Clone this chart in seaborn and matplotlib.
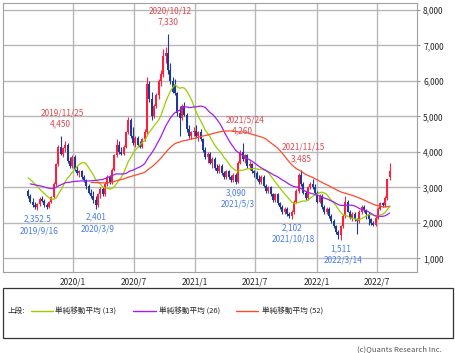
"""週足ローソク足と単純移動平均 (13/26/52) のチャート。"""

import matplotlib

matplotlib.use("Agg")
import matplotlib.dates as mdates
import matplotlib.pyplot as plt
import numpy as np
import pandas as pd
import seaborn as sns
from matplotlib.lines import Line2D
from matplotlib.patches import Rectangle

START = "2019-08-19"

# 表示開始前の終値 (移動平均の計算用、ローソクは描かない)
PRE_CLOSES = [2800, 2850, 2900, 3000, 2950, 3050, 2950, 3000, 2950, 2900, 3000, 3100,
              3200, 3300, 3400, 3450, 3500, 3400, 3350, 3300, 3250, 3200, 3250, 3150]

OPENS = [2900, 2750, 2600, 2500, 2450, 2520, 2680, 2620, 2500, 2450, 2580, 2720, 3100, 3650,
         4150, 3950, 4100, 4200, 3750, 3600, 3850, 3500, 3400, 3450, 3300, 3200, 3050, 2850,
         2750, 2650, 2500, 2800, 2950, 2800, 3100, 3300, 3150, 3500, 3900, 4200, 4000, 3950,
         4150, 4550, 4900, 4450, 4250, 4400, 4200, 4150, 4350, 4550, 5900, 5500, 5000, 5300,
         5600, 6000, 6200, 6700, 6800, 6300, 6000, 5900, 5650, 5100, 4950, 5300, 5050, 4650,
         4450, 4550, 4600, 4450, 4550, 4350, 4050, 3850, 3950, 3700, 3800, 3550, 3450, 3600,
         3400, 3300, 3450, 3300, 3200, 3350, 3150, 3700, 4000, 3800, 3900, 3600, 3650, 3450,
         3400, 3250, 3150, 3300, 3050, 2900, 3000, 2800, 2650, 2800, 2550, 2450, 2300, 2400,
         2250, 2200, 2300, 2600, 2900, 3350, 3100, 2850, 2700, 3000, 3100, 3000, 2850, 2600,
         2750, 2450, 2300, 2400, 2200, 2050, 1900, 1750, 1650, 1900, 2200, 2600, 2300, 2150,
         2250, 2100, 2050, 2300, 2450, 2350, 2250, 2100, 2000, 1950, 2150, 2400, 2550, 2500,
         2700, 3300]
HIGHS = [2950, 2800, 2700, 2600, 2560, 2720, 2750, 2660, 2560, 2620, 2750, 3150, 3700, 4200,
         4450, 4150, 4300, 4250, 3850, 3900, 3900, 3600, 3500, 3500, 3350, 3250, 3100, 2950,
         2900, 2750, 2850, 3000, 3000, 3150, 3350, 3350, 3550, 3950, 4350, 4300, 4150, 4200,
         4600, 4970, 4950, 4700, 4450, 4450, 4300, 4400, 4650, 6100, 6000, 5700, 5350, 5650,
         6050, 6300, 6900, 6950, 7330, 6500, 6100, 6050, 5700, 5300, 5350, 5400, 5100, 4750,
         4600, 4700, 4750, 4600, 4650, 4400, 4150, 4000, 4000, 3850, 3850, 3650, 3650, 3650,
         3450, 3500, 3500, 3350, 3400, 3400, 3750, 4050, 4260, 3950, 3950, 3750, 3700, 3500,
         3450, 3350, 3350, 3350, 3100, 3050, 3050, 2850, 2850, 2850, 2600, 2500, 2450, 2450,
         2300, 2350, 2650, 2950, 3400, 3485, 3150, 2900, 3050, 3150, 3250, 3100, 2900, 2800,
         2800, 2500, 2450, 2450, 2250, 2100, 1950, 1800, 1950, 2250, 2750, 2650, 2350, 2300,
         2300, 2150, 2350, 2500, 2500, 2400, 2300, 2150, 2050, 2200, 2450, 2600, 2600, 2750,
         3250, 3700]
LOWS = [2700, 2550, 2450, 2400, 2352.5, 2480, 2580, 2450, 2400, 2420, 2550, 2700, 3050, 3600,
        3900, 3850, 4000, 3700, 3550, 3550, 3450, 3350, 3300, 3250, 3150, 2950, 2800, 2700,
        2550, 2401, 2450, 2700, 2750, 2750, 3050, 3100, 3100, 3450, 3850, 3950, 3900, 3900,
        4100, 4500, 4400, 4200, 4150, 4150, 4100, 4100, 4300, 4500, 5400, 4900, 4950, 5250,
        5500, 5850, 6100, 6500, 6200, 5900, 5650, 5600, 5000, 4450, 4900, 5000, 4550, 4400,
        4350, 4450, 4400, 4300, 4300, 4000, 3800, 3700, 3650, 3550, 3500, 3400, 3400, 3350,
        3250, 3250, 3250, 3150, 3150, 3090, 3120, 3650, 3750, 3700, 3550, 3500, 3400, 3300,
        3200, 3100, 3100, 3000, 2850, 2850, 2750, 2600, 2600, 2500, 2400, 2250, 2250, 2200,
        2150, 2102, 2250, 2550, 2850, 3050, 2800, 2650, 2650, 2950, 2950, 2800, 2550, 2550,
        2400, 2250, 2250, 2150, 2000, 1850, 1700, 1550, 1511, 1850, 2150, 2300, 2100, 2050,
        2050, 1700, 2000, 2250, 2300, 2100, 1950, 1950, 1900, 1900, 2100, 2350, 2450, 2450,
        2650, 3200]
CLOSES = [2750, 2600, 2500, 2450, 2520, 2680, 2620, 2500, 2450, 2580, 2720, 3100, 3650, 4150,
          3950, 4100, 4200, 3750, 3600, 3850, 3500, 3400, 3450, 3300, 3200, 3050, 2850, 2750,
          2650, 2500, 2800, 2950, 2800, 3100, 3300, 3150, 3500, 3900, 4200, 4000, 3950, 4150,
          4550, 4900, 4450, 4250, 4400, 4200, 4150, 4350, 4550, 5900, 5500, 5000, 5300, 5600,
          6000, 6200, 6700, 6800, 6300, 6000, 5700, 5650, 5100, 4950, 5300, 5050, 4650, 4450,
          4550, 4600, 4450, 4550, 4350, 4050, 3850, 3950, 3700, 3800, 3550, 3450, 3600, 3400,
          3300, 3450, 3300, 3200, 3350, 3150, 3700, 4000, 3800, 3900, 3600, 3650, 3450, 3400,
          3250, 3150, 3300, 3050, 2900, 3000, 2800, 2650, 2800, 2550, 2450, 2300, 2400, 2250,
          2200, 2300, 2600, 2900, 3350, 3100, 2850, 2700, 3000, 3100, 3000, 2850, 2600, 2750,
          2450, 2300, 2400, 2200, 2050, 1900, 1750, 1650, 1900, 2200, 2600, 2300, 2150, 2250,
          2100, 2050, 2300, 2450, 2350, 2250, 2100, 2000, 1950, 2150, 2400, 2550, 2500, 2700,
          3250, 3450]

MA_WINDOWS = [13, 26, 52]
MA_LABELS = ["単純移動平均 (13)", "単純移動平均 (26)", "単純移動平均 (52)"]
MA_COLORS = ["#9acd00", "#a020f0", "#ff4a2a"]

PEAK_DATES = ["2019/11/25", "2020/10/12", "2021/5/24", "2021/11/15"]
PEAK_VALUES = [4450, 7330, 4260, 3485]
BOTTOM_DATES = ["2019/9/16", "2020/3/9", "2021/5/3", "2021/10/18", "2022/3/14"]
BOTTOM_VALUES = [2352.5, 2401, 3090, 2102, 1511]

X_TICKS = ["2020-01-01", "2020-07-01", "2021-01-01", "2021-07-01", "2022-01-01", "2022-07-01"]
Y_TICKS = [1000, 2000, 3000, 4000, 5000, 6000, 7000, 8000]

UP = "#ff1e3c"
DOWN = "#1c3a96"
RED_TEXT = "#e2474f"
BLUE_TEXT = "#4a7ee6"


def fmt(v):
    return f"{v:,.1f}" if v != int(v) else f"{int(v):,}"


sns.set_style("white")
plt.rcParams["font.family"] = ["Noto Sans CJK JP", "DejaVu Sans"]

fig = plt.figure(figsize=(4.56, 3.53), dpi=100)
ax = fig.add_axes([0.0066, 0.2303, 0.9079, 0.7621])

weeks = pd.date_range(START, periods=len(CLOSES), freq="7D")
x = mdates.date2num(weeks)
o = np.array(OPENS, dtype=float)
h = np.array(HIGHS, dtype=float)
l = np.array(LOWS, dtype=float)
c = np.array(CLOSES, dtype=float)
cols = np.where(c >= o, UP, DOWN)

ax.vlines(x, l, h, colors=cols, lw=0.8, zorder=3)
body = np.maximum(np.abs(c - o), 15)
ax.bar(x, body, bottom=np.minimum(o, c), width=5.5, color=cols, lw=0, zorder=3)

full = pd.Series(PRE_CLOSES + CLOSES, dtype=float)
for n, col in zip(MA_WINDOWS, MA_COLORS):
    ma = full.rolling(n).mean().iloc[len(PRE_CLOSES):].to_numpy()
    ok = ~np.isnan(ma)
    sns.lineplot(x=x[ok], y=ma[ok], color=col, lw=0.9, ax=ax, zorder=4)

for d, v in zip(PEAK_DATES, PEAK_VALUES):
    xd = mdates.date2num(pd.Timestamp(d.replace("/", "-")))
    ax.annotate(fmt(v), (xd, v), xytext=(0, 8.5), textcoords="offset points",
                ha="center", va="center", fontsize=6, color=RED_TEXT, zorder=5)
    ax.annotate(d, (xd, v), xytext=(1.5, 16.5), textcoords="offset points",
                ha="center", va="center", fontsize=6, color=RED_TEXT, zorder=5)
for d, v in zip(BOTTOM_DATES, BOTTOM_VALUES):
    xd = mdates.date2num(pd.Timestamp(d.replace("/", "-")))
    ax.annotate(fmt(v), (xd, v), xytext=(0, -6), textcoords="offset points",
                ha="center", va="center", fontsize=6, color=BLUE_TEXT, zorder=5)
    ax.annotate(d, (xd, v), xytext=(1.5, -14.5), textcoords="offset points",
                ha="center", va="center", fontsize=6, color=BLUE_TEXT, zorder=5)

ax.set_xlim(mdates.date2num(pd.Timestamp("2019-06-05")), mdates.date2num(pd.Timestamp("2022-10-29")))
ax.set_ylim(624, 8205)
xt = mdates.date2num(pd.to_datetime(X_TICKS))
ax.set_xticks(xt)
ax.set_xticklabels([f"{t.year}/{t.month}" for t in pd.to_datetime(X_TICKS)], fontsize=6)
ax.set_yticks(Y_TICKS)
ax.set_yticklabels([f"{v:,}" for v in Y_TICKS], fontsize=6)
ax.yaxis.tick_right()
ax.tick_params(axis="x", length=0, pad=4)
ax.tick_params(axis="y", length=2.2, pad=2.2, color="#999999", right=True)
ax.grid(True, color="#b8b8b8", lw=1.0, zorder=0)
ax.set_axisbelow(True)
for s in ax.spines.values():
    s.set_color("#a0a0a0")
    s.set_linewidth(0.8)
ax.set_xlabel("")
ax.set_ylabel("")

# 凡例ボックス
fig.add_artist(Rectangle((0.006, 0.0433), 0.9875, 0.14, transform=fig.transFigure,
                         fill=False, ec="#333333", lw=0.9))
ly = 1 - 310.7 / 353
fig.text(8 / 456, ly, "上段:", va="center", fontsize=5.5)
for (x0, x1, tx), lab, col in zip([(31, 53, 55), (133, 156, 159), (236, 258, 262)], MA_LABELS, MA_COLORS):
    fig.add_artist(Line2D([x0 / 456, x1 / 456], [ly, ly], transform=fig.transFigure, color=col, lw=1))
    fig.text(tx / 456, ly, lab, va="center", fontsize=5.5)

fig.text(442 / 456, 1 - 349 / 353, "(c)Quants Research Inc.", ha="right", va="center",
         fontsize=5.5, color="#555555")

fig.savefig("out.png", dpi=100)
